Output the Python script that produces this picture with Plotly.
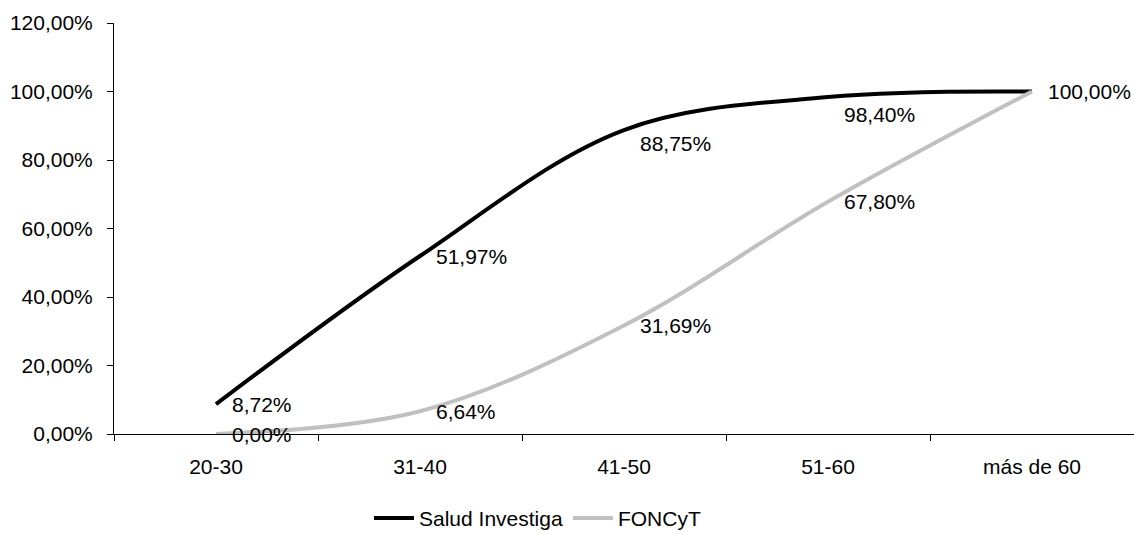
import plotly.graph_objects as go

categories = ["20-30", "31-40", "41-50", "51-60", "más de 60"]
salud = [8.72, 51.97, 88.75, 98.40, 100.00]
foncyt = [0.00, 6.64, 31.69, 67.80, 100.00]
y_ticks = [0, 20, 40, 60, 80, 100, 120]

# vertical nudges (px, downward) for the data labels, as in the reference
salud_label_drop = [0, 0, 13, 18, 0]
foncyt_label_drop = [0, 0, 0, 0, 0]

FONT = "Liberation Sans, Arial, sans-serif"
FS = 21


def fmt(v):
    return f"{v:.2f}".replace(".", ",") + "%"


fig = go.Figure()
fig.add_trace(go.Scatter(x=categories, y=salud, mode="lines", name="Salud Investiga",
                         line=dict(color="#000000", width=4, shape="spline", smoothing=1)))
fig.add_trace(go.Scatter(x=categories, y=foncyt, mode="lines", name="FONCyT",
                         line=dict(color="#c0c0c0", width=4, shape="spline", smoothing=1)))

anns = []
seen = set()
for vals, drops in ((salud, salud_label_drop), (foncyt, foncyt_label_drop)):
    for c, v, d in zip(categories, vals, drops):
        if (c, v) in seen:
            continue
        seen.add((c, v))
        anns.append(dict(x=c, y=v, xref="x", yref="y", text=fmt(v), showarrow=False,
                         xanchor="left", yanchor="middle", xshift=14, yshift=-d,
                         font=dict(family=FONT, size=FS, color="#000000")))

fig.update_layout(
    width=1134, height=534,
    margin=dict(l=114, r=0, t=23, b=100, autoexpand=False),
    paper_bgcolor="white", plot_bgcolor="white",
    font=dict(family=FONT, size=FS, color="#000000"),
    annotations=anns,
    showlegend=True,
    legend=dict(orientation="h", x=0.250, xanchor="left", y=-0.205, yanchor="middle",
                itemwidth=40,
                font=dict(family=FONT, size=FS, color="#000000"),
                bgcolor="rgba(0,0,0,0)"),
)
fig.update_xaxes(type="category", range=[-0.5, 4.5], showline=True, linecolor="#000000",
                 linewidth=1, ticks="outside", tickson="boundaries", ticklen=6,
                 tickcolor="#000000", showgrid=False, zeroline=False,
                 ticklabelstandoff=14)
fig.update_yaxes(range=[0, 120], tickvals=y_ticks, ticktext=[fmt(t) for t in y_ticks],
                 showline=True, linecolor="#000000", linewidth=1, ticks="outside",
                 ticklen=6, tickcolor="#000000", showgrid=False, zeroline=False,
                 ticklabelstandoff=10)

fig.write_html("out.html")
